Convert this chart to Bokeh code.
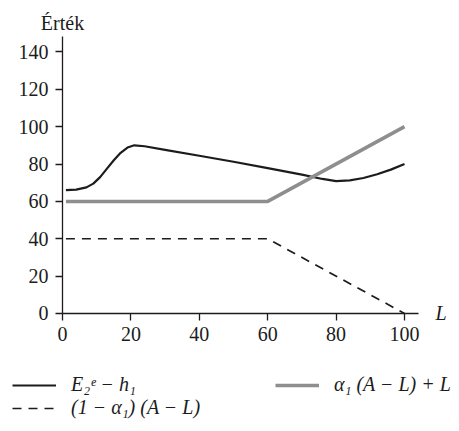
from bokeh.plotting import figure
from bokeh.models import Range1d, FixedTicker, Label, Legend, LegendItem
from bokeh.embed import file_html
from bokeh.resources import INLINE

# ---- data ----
L_curve = [1, 4, 7, 9, 11, 13, 15, 17, 19, 21, 24, 30, 40, 50, 60, 70, 76, 80, 84, 88, 92, 96, 100]
E_curve = [66, 66.3, 67.5, 69.5, 73, 77.5, 82, 86, 88.8, 90, 89.5, 87.6, 84.4, 81.2, 77.8, 74.3, 72, 70.8, 71.2, 72.5, 74.5, 77, 80]

L_gray = [1, 60, 100]
V_gray = [60, 60, 100]

L_dash = [1, 60, 100]
V_dash = [40, 40, 0]

x_ticks = [0, 20, 40, 60, 80, 100]
y_ticks = [0, 20, 40, 60, 80, 100, 120, 140]

x_axis_end = 104.1
y_axis_end = 148

label_black = "E\u2082\u1d49 \u2212 h\u2081"
label_gray = "\u03b1\u2081 (A \u2212 L) + L"
label_dash = "(1 \u2212 \u03b1\u2081) (A \u2212 L)"
y_title = "Érték"
x_title = "L"

FONT = "Liberation Serif"
INK = "#1c1c1c"

W, H = 451, 423
# view window (frame = whole canvas, axes drawn at fixed locations)
x_view = (-18.13, 113.74)
y_view = (-58.87, 167.5)

p = figure(width=W, height=H, output_backend="svg", toolbar_location=None,
           x_range=Range1d(*x_view), y_range=Range1d(*y_view),
           min_border=0)
p.outline_line_color = None
p.grid.visible = False
p.background_fill_color = "white"
p.border_fill_color = "white"

p.xaxis.fixed_location = 0
p.yaxis.fixed_location = 0
p.xaxis.bounds = (0, x_axis_end)
p.yaxis.bounds = (0, y_axis_end)

for ax in (p.xaxis[0], p.yaxis[0]):
    ax.axis_line_color = INK
    ax.axis_line_width = 1.3
    ax.major_tick_line_color = INK
    ax.major_tick_line_width = 1.3
    ax.major_tick_out = 7
    ax.major_tick_in = 0
    ax.minor_tick_line_color = None
    ax.major_label_text_font = FONT
    ax.major_label_text_font_size = "20px"
    ax.major_label_text_color = INK
    ax.major_label_standoff = 7

p.xaxis.ticker = FixedTicker(ticks=x_ticks)
p.yaxis.ticker = FixedTicker(ticks=y_ticks)

r_black = p.line(L_curve, E_curve, line_color=INK, line_width=2.2)
r_gray = p.line(L_gray, V_gray, line_color="#8e8e8e", line_width=3.5)
r_dash = p.line(L_dash, V_dash, line_color=INK, line_width=1.7, line_dash="9 7")

p.add_layout(Label(x=0, y=y_axis_end, text=y_title, text_align="center", text_baseline="alphabetic",
                   y_offset=14, text_font=FONT, text_font_size="20px", text_color=INK))
p.add_layout(Label(x=x_axis_end, y=0, text=x_title, text_align="left", text_baseline="middle",
                   x_offset=17, text_font=FONT, text_font_style="italic",
                   text_font_size="20px", text_color=INK))

legend = Legend(items=[LegendItem(label=label_black, renderers=[r_black]),
                       LegendItem(label=label_dash, renderers=[r_dash]),
                       LegendItem(label=label_gray, renderers=[r_gray])],
                location=(12, 4), orientation="vertical", nrows=2,
                padding=0, spacing=-3, margin=0,
                glyph_width=44, glyph_height=20, label_height=20, label_width=204,
                label_standoff=15,
                label_text_font=FONT, label_text_font_style="italic",
                label_text_font_size="20px", label_text_color=INK,
                border_line_color=None, background_fill_alpha=0)
p.add_layout(legend, "center")

open("out.html", "w").write(file_html(p, INLINE))
